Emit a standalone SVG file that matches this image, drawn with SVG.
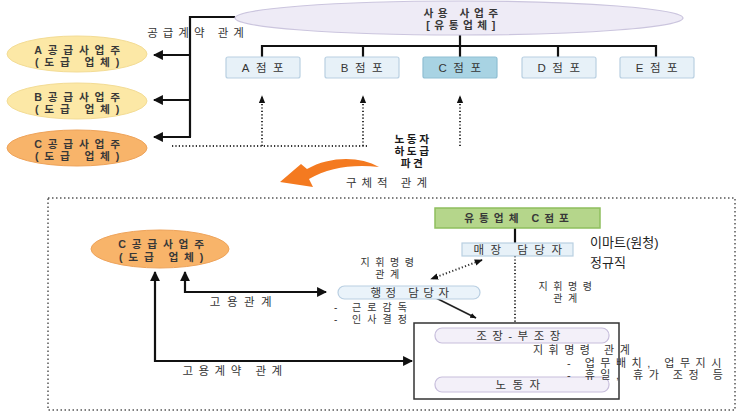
<svg xmlns="http://www.w3.org/2000/svg" width="739" height="414" viewBox="0 0 739 414">
<defs>
<style>
text{font-family:"Liberation Sans","Noto Sans CJK KR",sans-serif;fill:#353535;font-size:11.5px}
.t{letter-spacing:5px}
.tb{font-size:10.7px;letter-spacing:5.8px;font-weight:bold;fill:#383838}
.m{font-size:10px;letter-spacing:5.5px}
.big{font-size:13px;fill:#222;letter-spacing:0}
.bold{font-size:10.7px;font-weight:bold;fill:#1a1a1a;letter-spacing:2.5px}
.ln{stroke:#111;stroke-width:2.2;fill:none}
.thin{stroke:#222;stroke-width:1.6;fill:none}
.dot{stroke:#333;stroke-width:2;fill:none;stroke-dasharray:1.2 2.2}
.store{fill:#e7f1f8;stroke:#b9d0e2;stroke-width:1.2}
.pill{fill:#f3f0f9;stroke:#c7bedc;stroke-width:1.2}
.pillb{fill:#eaf3fa;stroke:#b9cfe2;stroke-width:1.2}
</style>
<marker id="ah" viewBox="0 0 10 10" refX="9" refY="5" markerWidth="4.5" markerHeight="4.5" orient="auto-start-reverse"><path d="M0,0 L10,5 L0,10 Z" fill="#111"/></marker>
<marker id="ahs" viewBox="0 0 10 10" refX="9" refY="5" markerWidth="4" markerHeight="4" orient="auto-start-reverse"><path d="M0,1 L10,5 L0,9 Z" fill="#111"/></marker>
</defs>
<rect width="739" height="414" fill="#fff"/>

<g id="connectors">
  <polyline class="ln" points="235,17 190,17 190,137"/>
  <line class="ln" x1="190" y1="55" x2="154" y2="55" marker-end="url(#ah)"/>
  <line class="ln" x1="190" y1="100" x2="154" y2="100" marker-end="url(#ah)"/>
  <line class="ln" x1="191" y1="137" x2="154" y2="137" marker-end="url(#ah)"/>
  <line class="ln" x1="460" y1="35" x2="460" y2="46"/>
  <polyline class="ln" points="262,57 262,46 656,46 656,57"/>
  <line class="ln" x1="363" y1="46" x2="363" y2="57"/>
  <line class="ln" x1="460" y1="46" x2="460" y2="57"/>
  <line class="ln" x1="558" y1="46" x2="558" y2="57"/>
  <line class="dot" x1="172" y1="146" x2="367" y2="146"/>
  <line class="dot" x1="262" y1="146" x2="262" y2="96" marker-end="url(#ahs)"/>
  <line class="dot" x1="363" y1="146" x2="363" y2="96" marker-end="url(#ahs)"/>
  <line class="dot" x1="460" y1="146" x2="460" y2="96" marker-end="url(#ahs)"/>
  <path d="M379,167 C360,156 330,156 307,169 L301,164 L280,182 L313,187 L309,179 C328,168 352,164 379,167 Z" fill="#f47a20"/>
  <polyline class="ln" points="185,272 185,292 326,292" marker-start="url(#ah)" marker-end="url(#ah)"/>
  <polyline class="ln" points="155,272 155,361 412,361" marker-start="url(#ah)" marker-end="url(#ah)"/>
  <line class="ln" x1="515" y1="228" x2="515" y2="243"/>
  <line class="dot" x1="515" y1="256" x2="515" y2="322"/>
  <line class="dot" x1="482" y1="260" x2="431" y2="279" marker-start="url(#ahs)" marker-end="url(#ahs)"/>
  <line class="thin" x1="432" y1="296" x2="476" y2="318" marker-end="url(#ahs)"/>
  <line class="ln" x1="515" y1="343" x2="515" y2="377"/>
</g>

<rect x="48" y="198" width="687" height="212" fill="none" stroke="#555" stroke-width="1.5" stroke-dasharray="1.5 2.5"/>

<g id="user-employer">
  <ellipse cx="459" cy="18" rx="224" ry="17" fill="#eeebf6" stroke="#cbc5de" stroke-width="1.2"/>
  <text class="tb" x="463" y="17" text-anchor="middle" style="letter-spacing:4.5px">사용 사업주</text>
  <text class="tb" x="463" y="29" text-anchor="middle" style="letter-spacing:4.5px">[유통업체]</text>
</g>
<g id="label-supply"><text class="t" x="198" y="37" text-anchor="middle">공급계약 관계</text></g>

<g id="supplierA">
  <ellipse cx="77" cy="54" rx="70" ry="18" fill="#fce8a6" stroke="#f3dc95" stroke-width="1"/>
  <text class="tb" x="80" y="54" text-anchor="middle">A공급사업주</text>
  <text class="tb" x="80" y="66" text-anchor="middle">(도급 업체)</text>
</g>
<g id="supplierB">
  <ellipse cx="77" cy="101" rx="70" ry="18" fill="#fce8a6" stroke="#f3dc95" stroke-width="1"/>
  <text class="tb" x="80" y="101" text-anchor="middle">B공급사업주</text>
  <text class="tb" x="80" y="113" text-anchor="middle">(도급 업체)</text>
</g>
<g id="supplierC">
  <ellipse cx="77" cy="148" rx="70" ry="18" fill="#f8b46a" stroke="#eea35a" stroke-width="1"/>
  <text class="tb" x="80" y="148" text-anchor="middle">C공급사업주</text>
  <text class="tb" x="80" y="160" text-anchor="middle">(도급 업체)</text>
</g>

<g id="storeA"><rect class="store" x="226" y="57" width="74" height="21" rx="2"/><text class="t" x="266" y="72" text-anchor="middle" style="letter-spacing:6.5px">A점포</text></g>
<g id="storeB"><rect class="store" x="325" y="57" width="74" height="21" rx="2"/><text class="t" x="365" y="72" text-anchor="middle" style="letter-spacing:6.5px">B점포</text></g>
<g id="storeC"><rect x="423" y="57" width="74" height="21" rx="2" fill="#a8d3e3" stroke="#8fbfd3" stroke-width="1.2"/><text class="t" x="463" y="72" text-anchor="middle" style="letter-spacing:6.5px">C점포</text></g>
<g id="storeD"><rect class="store" x="522" y="57" width="74" height="21" rx="2"/><text class="t" x="562" y="72" text-anchor="middle" style="letter-spacing:6.5px">D점포</text></g>
<g id="storeE"><rect class="store" x="620" y="57" width="74" height="21" rx="2"/><text class="t" x="660" y="72" text-anchor="middle" style="letter-spacing:6.5px">E점포</text></g>

<g id="label-dispatch">
  <text class="bold" x="413" y="143" text-anchor="middle">노동자</text>
  <text class="bold" x="413" y="155" text-anchor="middle">하도급</text>
  <text class="bold" x="413" y="167" text-anchor="middle">파견</text>
</g>
<g id="label-concrete"><text class="t" x="389" y="187" text-anchor="middle">구체적 관계</text></g>

<g id="supplierC2">
  <ellipse cx="160" cy="249" rx="69" ry="19" fill="#f8b46a" stroke="#eea35a" stroke-width="1"/>
  <text class="tb" x="164" y="248" text-anchor="middle">C공급사업주</text>
  <text class="tb" x="164" y="260.5" text-anchor="middle">(도급 업체)</text>
</g>
<g id="label-employ"><text class="t" x="244" y="306" text-anchor="middle" style="letter-spacing:6.5px">고용관계</text></g>
<g id="label-employ-contract"><text class="t" x="235" y="375" text-anchor="middle" style="letter-spacing:5.5px">고용계약 관계</text></g>

<g id="storeC-main">
  <rect x="435" y="208" width="165" height="20" fill="#b5d68b" stroke="#8fbf5e" stroke-width="1.5"/>
  <text class="tb" x="519" y="222" text-anchor="middle" style="letter-spacing:5px">유통업체 C점포</text>
</g>
<g id="floor-manager">
  <rect class="store" x="462" y="243" width="111" height="13"/>
  <text x="521" y="254" text-anchor="middle" style="letter-spacing:6.5px">매장 담당자</text>
</g>
<g id="label-emart">
  <text class="big" x="590" y="247">이마트(원청)</text>
  <text class="big" x="590" y="267">정규직</text>
</g>
<g id="label-cmd1">
  <text class="m" x="390" y="266" text-anchor="middle">지휘명령</text>
  <text class="m" x="390" y="277.5" text-anchor="middle">관계</text>
</g>
<g id="admin-manager">
  <rect class="pillb" x="338" y="286" width="142" height="13" rx="6.5"/>
  <text x="412" y="297" text-anchor="middle" style="letter-spacing:4.5px">행정 담당자</text>
</g>
<g id="label-admin-duties">
  <text class="m" x="334" y="311" style="letter-spacing:6px">- 근로감독</text>
  <text class="m" x="334" y="322.5" style="letter-spacing:6px">- 인사결정</text>
</g>
<g id="label-cmd2">
  <text class="m" x="568" y="290" text-anchor="middle">지휘명령</text>
  <text class="m" x="568" y="301.5" text-anchor="middle">관계</text>
</g>
<g id="team-box">
  <rect x="414" y="323" width="205" height="76" fill="#fff" stroke="#333" stroke-width="1.5"/>
</g>
<g id="leader">
  <rect class="pill" x="435" y="328" width="174" height="15" rx="7"/>
  <text x="521" y="340" text-anchor="middle" style="letter-spacing:5.5px">조장-부조장</text>
</g>
<g id="worker">
  <rect class="pill" x="435" y="377" width="174" height="15" rx="7"/>
  <text x="521" y="389" text-anchor="middle" style="letter-spacing:6.5px">노동자</text>
</g>
<g id="label-cmd3">
  <text x="533" y="354" style="font-size:11px;letter-spacing:5.5px">지휘명령 관계</text>
  <text x="567" y="366.5" style="font-size:11px;letter-spacing:5.5px">- 업무배치, 업무지시</text>
  <text x="567" y="379" style="font-size:11px;letter-spacing:5.5px">- 휴일, 휴가 조정 등</text>
</g>
</svg>
